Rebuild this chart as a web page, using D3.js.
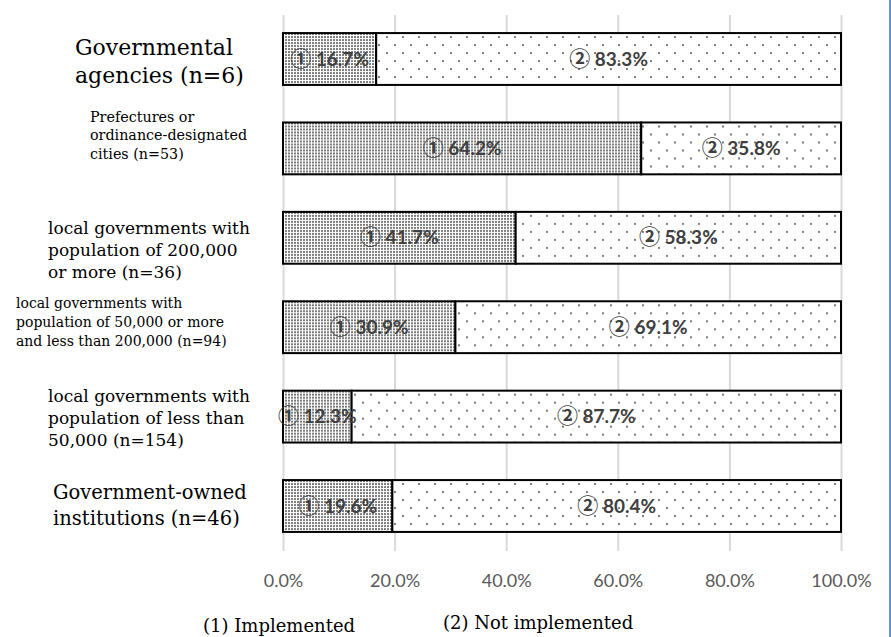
<!DOCTYPE html>
<html>
<head>
<meta charset="utf-8">
<script src="https://cdn.jsdelivr.net/npm/d3@7/dist/d3.min.js"></script>
<style>
  html, body { margin: 0; padding: 0; background: #ffffff; }
  svg { display: block; }
</style>
</head>
<body>
<svg id="chart" width="891" height="637"></svg>
<script>
// ---- data ----
const categories = ["gov", "pref", "lg200k", "lg50k200k", "lg50k", "govOwned"];
const categoryLabels = [
  ["Governmental", "agencies (n=6)"],
  ["Prefectures or", "ordinance-designated", "cities (n=53)"],
  ["local governments with", "population of 200,000", "or more (n=36)"],
  ["local governments with", "population of 50,000 or more", "and less than 200,000 (n=94)"],
  ["local governments with", "population of less than", "50,000 (n=154)"],
  ["Government-owned", "institutions (n=46)"]
];
const implemented = [16.7, 64.2, 41.7, 30.9, 12.3, 19.6];
const notImplemented = [83.3, 35.8, 58.3, 69.1, 87.7, 80.4];
const seriesNames = ["(1) Implemented", "(2) Not implemented"];
const seriesMarks = ["\u2460", "\u2461"];
const tickValues = [0, 20, 40, 60, 80, 100];

// ---- layout / style ----
const labelStyles = [
  { size: 22, lh: 28, x: 75, dy: 2 },
  { size: 14.3, lh: 18.5, x: 90, dy: -13 },
  { size: 17, lh: 22, x: 48, dy: 12 },
  { size: 14, lh: 19, x: 16, dy: -5 },
  { size: 17, lh: 22, x: 48, dy: 1.5 },
  { size: 19.5, lh: 26, x: 53, dy: -1 }
];
const serif = "'DejaVu Serif', 'Liberation Serif', serif";
const sans = "Lato, 'Noto Sans', 'DejaVu Sans', sans-serif";
const circled = "'Noto Sans CJK JP', 'DejaVu Sans', sans-serif";

const svg = d3.select("#chart");

const x = d3.scaleLinear().domain([0, 100]).range([283, 841]);
const y = d3.scaleBand().domain(categories).range([14.3, 550.7])
  .paddingInner(0.42).paddingOuter(0.21);

// fill patterns
const defs = svg.append("defs");
const dense = defs.append("pattern").attr("id", "pat-dense")
  .attr("patternUnits", "userSpaceOnUse").attr("width", 3).attr("height", 3);
dense.append("rect").attr("width", 3).attr("height", 3).attr("fill", "#ffffff");
dense.append("rect").attr("x", 0).attr("y", 0).attr("width", 2).attr("height", 2).attr("fill", "#7c7c7c");

const sparse = defs.append("pattern").attr("id", "pat-sparse")
  .attr("patternUnits", "userSpaceOnUse").attr("width", 16).attr("height", 16);
sparse.append("rect").attr("width", 16).attr("height", 16).attr("fill", "#ffffff");
sparse.append("rect").attr("x", 2).attr("y", 3).attr("width", 2).attr("height", 2).attr("fill", "#7c7c7c");
sparse.append("rect").attr("x", 10).attr("y", 11).attr("width", 2).attr("height", 2).attr("fill", "#7c7c7c");

// vertical gridlines
const grid = svg.append("g").attr("transform", "translate(0,551)")
  .call(d3.axisBottom(x).tickValues(tickValues).tickSize(-536).tickFormat(""));
grid.select(".domain").remove();
grid.selectAll("line").attr("stroke", "#d9d9d9").attr("stroke-width", 2);

// tick labels
const axis = svg.append("g").attr("transform", "translate(0,587)")
  .call(d3.axisBottom(x).tickValues(tickValues).tickSize(0).tickPadding(0)
    .tickFormat(d => d3.format(".1f")(d) + "%"));
axis.select(".domain").remove();
axis.selectAll("text")
  .attr("dy", 0)
  .attr("fill", "#595959")
  .style("font-family", sans)
  .style("font-size", "18px");

// stacked bars
const rows = categories.map((c, i) => ({
  key: c,
  segs: [
    { s: 0, x0: 0, x1: implemented[i], v: implemented[i] },
    { s: 1, x0: implemented[i], x1: implemented[i] + notImplemented[i], v: notImplemented[i] }
  ]
}));
const patterns = ["url(#pat-dense)", "url(#pat-sparse)"];

const rowG = svg.append("g").selectAll("g").data(rows).join("g")
  .attr("transform", d => `translate(0,${y(d.key)})`);

rowG.selectAll("rect").data(d => d.segs).join("rect")
  .attr("x", d => x(d.x0))
  .attr("y", 0)
  .attr("width", d => x(d.x1) - x(d.x0))
  .attr("height", y.bandwidth())
  .attr("fill", d => patterns[d.s])
  .attr("stroke", "#000000")
  .attr("stroke-width", 2);

const labels = rowG.selectAll("text").data(d => d.segs).join("text")
  .attr("x", d => (x(d.x0) + x(d.x1)) / 2)
  .attr("y", y.bandwidth() / 2)
  .attr("dy", "0.35em")
  .attr("text-anchor", "middle")
  .attr("fill", "#404040")
  .style("font-family", sans)
  .style("font-size", "19px")
  .style("font-weight", "bold");
labels.append("tspan")
  .style("font-family", circled)
  .style("font-weight", "bold")
  .style("font-size", "21px")
  .text(d => seriesMarks[d.s]);
labels.append("tspan")
  .text(d => " " + d3.format(".1f")(d.v) + "%");

// category labels
categories.forEach((c, i) => {
  const st = labelStyles[i];
  const lines = categoryLabels[i];
  const cy = y(c) + y.bandwidth() / 2 + st.dy;
  const t = svg.append("text")
    .attr("fill", "#000000")
    .style("font-family", serif)
    .style("font-size", st.size + "px");
  lines.forEach((ln, j) => {
    t.append("tspan")
      .attr("x", st.x)
      .attr("y", cy + (j - (lines.length - 1) / 2) * st.lh + st.size * 0.35)
      .text(ln);
  });
});

// legend
const legendPos = [{ x: 203, y: 632 }, { x: 443, y: 629 }];
svg.append("g").selectAll("text").data(seriesNames).join("text")
  .attr("x", (d, i) => legendPos[i].x)
  .attr("y", (d, i) => legendPos[i].y)
  .attr("fill", "#000000")
  .style("font-family", serif)
  .style("font-size", "18px")
  .text(d => d);

// right frame edge
svg.append("line")
  .attr("x1", 890).attr("x2", 890).attr("y1", 0).attr("y2", 637)
  .attr("stroke", "#2e75b6").attr("stroke-width", 1.5);
</script>
</body>
</html>
